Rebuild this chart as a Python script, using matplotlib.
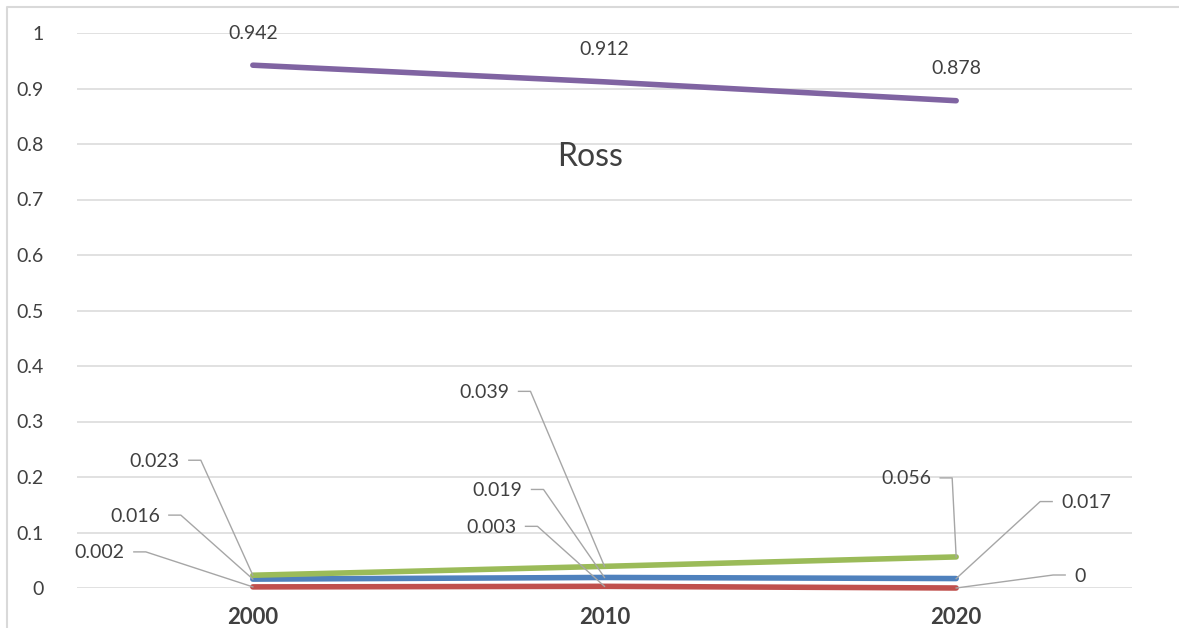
import matplotlib
matplotlib.use('Agg')
import matplotlib.pyplot as plt
from matplotlib.lines import Line2D
from matplotlib.transforms import IdentityTransform

# data
years = ['2000', '2010', '2020']
purple_vals = [0.942, 0.912, 0.878]
green_vals = [0.023, 0.039, 0.056]
blue_vals = [0.016, 0.019, 0.017]
red_vals = [0.002, 0.003, 0.0]
yticks = [0, 0.1, 0.2, 0.3, 0.4, 0.5, 0.6, 0.7, 0.8, 0.9, 1]
ytick_labels = ['0', '0.1', '0.2', '0.3', '0.4', '0.5', '0.6', '0.7', '0.8', '0.9', '1']
chart_title = 'Ross'

TEXT = '#404040'
GRID = '#D9D9D9'
LEADER = '#A6A6A6'
FS = 14
plt.rcParams['font.family'] = ['Lato', 'DejaVu Sans']

fig = plt.figure(figsize=(11.79, 6.28), dpi=100)
ax = fig.add_axes([77 / 1179, 1 - 588 / 628, 1055 / 1179, 555 / 628])

series = [
    (purple_vals, '#8064A2'),
    (red_vals, '#C0504D'),
    (blue_vals, '#4F81BD'),
    (green_vals, '#9BBB59'),
]
xs = list(range(len(years)))
for vals, col in series:
    ax.plot(xs, vals, color=col, lw=4.0, solid_capstyle='round', clip_on=False, zorder=3)

ax.set_xlim(-0.5, 2.5)
ax.set_ylim(0, 1)
ax.set_yticks(yticks)
ax.set_yticklabels(ytick_labels)
ax.set_xticks(xs)
ax.set_xticklabels(years, fontweight='bold')
ax.tick_params(axis='y', length=0, pad=24, labelsize=FS, labelcolor=TEXT)
ax.tick_params(axis='x', length=0, pad=14, labelsize=16, labelcolor=TEXT)
ax.grid(axis='y', color=GRID, lw=1.1)
ax.set_axisbelow(True)
for s in ax.spines.values():
    s.set_visible(False)

ax.text(0.486, 0.777, chart_title, transform=ax.transAxes, ha='center', va='center',
        fontsize=23, color=TEXT)

# purple labels above the points
for i, v in enumerate(purple_vals):
    ax.annotate(f'{v:g}', xy=(i, v), xytext=(0, 32), textcoords='offset pixels',
                ha='center', va='center', fontsize=FS, color=TEXT)

# labels with leader lines: (series values, index, dx, dy, side)
callouts = [
    (green_vals, 0, -73, 114, 'left'),
    (blue_vals, 0, -93, 63, 'left'),
    (red_vals, 0, -128, 34, 'left'),
    (green_vals, 1, -95, 174, 'left'),
    (blue_vals, 1, -82, 87, 'left'),
    (red_vals, 1, -88, 59, 'left'),
    (green_vals, 2, -25, 78, 'left'),
    (blue_vals, 2, 105, 76, 'right'),
    (red_vals, 2, 118, 12, 'right'),
]
for vals, i, dx, dy, side in callouts:
    v = vals[i]
    ha = 'right' if side == 'left' else 'left'
    ax.annotate(f'{v:g}', xy=(i, v), xytext=(dx, dy), textcoords='offset pixels',
                ha=ha, va='center', fontsize=FS, color=TEXT)
    px, py = ax.transData.transform((i, v))
    sgn = 1 if side == 'left' else -1
    start = px + dx + sgn * 9
    elbow = start + sgn * 12
    ty = py + dy + 1
    fig.add_artist(Line2D([start, elbow, px], [ty, ty, py], color=LEADER, lw=1.0,
                          transform=IdentityTransform(), zorder=2))

# chart frame: only the top and left edges are visible in the crop
fig.add_artist(Line2D([7 / 1179, 7 / 1179, 1.0], [0.0, 1 - 7 / 628, 1 - 7 / 628],
                      transform=fig.transFigure, color=GRID, lw=1.5))

fig.savefig('out.png', dpi=100)
